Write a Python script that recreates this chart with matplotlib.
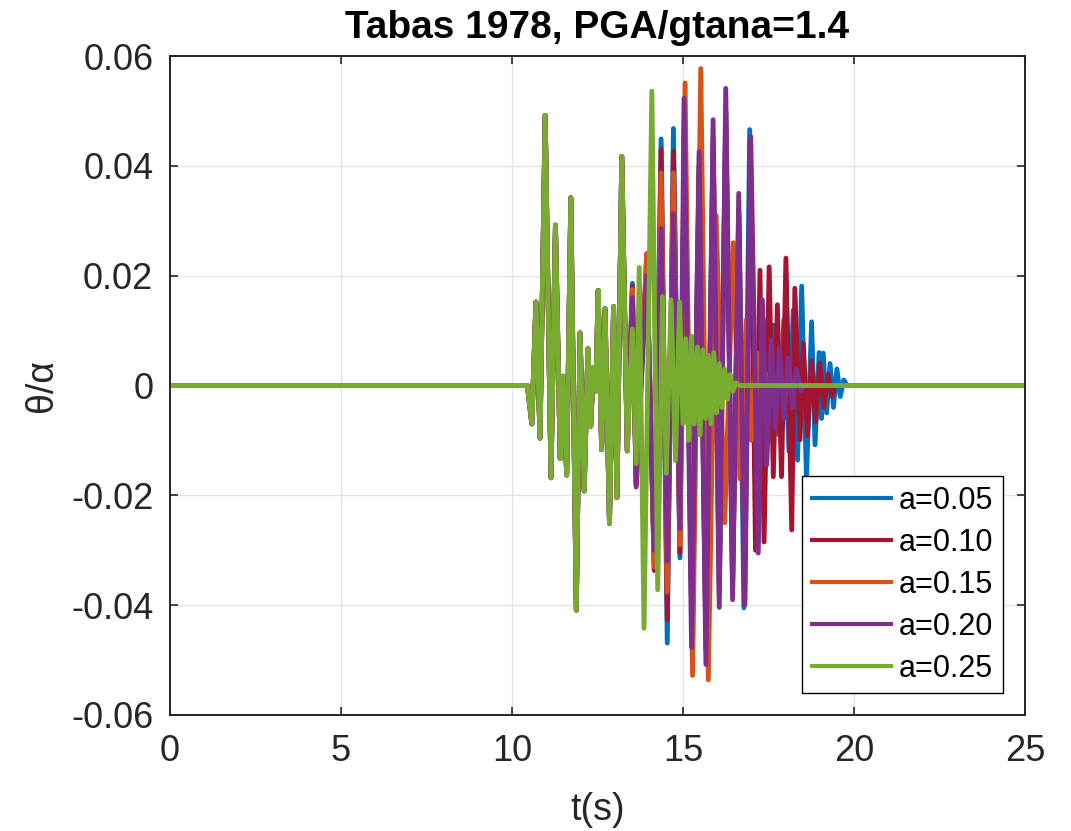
import numpy as np
import matplotlib.pyplot as plt

plt.rcParams['font.family'] = ['Liberation Sans', 'DejaVu Sans']

# shared start of the response (all five curves lie on top of each other here)
t_common = [0, 10.45, 10.58, 10.70, 10.82, 10.97, 11.14, 11.27, 11.41, 11.48, 11.60,
            11.72, 11.88, 11.99, 12.11, 12.22, 12.30, 12.38, 12.45, 12.52, 12.62,
            12.72, 12.85, 12.97, 13.07, 13.21, 13.37]
v_common = [0, 0, -0.0070, 0.0152, -0.0096, 0.0492, -0.0168, 0.0292, -0.0133, 0.0017,
            -0.0163, 0.0342, -0.0409, 0.0096, -0.0192, 0.0067, -0.0074, 0.0033, -0.0010,
            0.0173, -0.0117, 0.0140, -0.0251, 0.0144, -0.0204, 0.0417, -0.0119]

# a = 0.05
t_a05 = [13.52, 13.63, 13.94, 14.16, 14.36, 14.54, 14.72, 14.91, 15.04, 15.26, 15.47,
         15.67, 15.88, 16.06, 16.25, 16.45, 16.63, 16.78, 16.95, 17.18, 17.35, 17.50,
         17.65, 17.80, 17.95, 18.10, 18.22, 18.35, 18.47, 18.61, 18.76, 18.86, 18.98,
         19.05, 19.10, 19.20, 19.30, 19.40, 19.50, 19.60, 19.70, 19.80, 25]
v_a05 = [0.0186, -0.0175, 0.0220, -0.0335, 0.0449, -0.0469, 0.0468, -0.0314, 0.0470,
         -0.0430, 0.0380, -0.0460, 0.0430, -0.0360, 0.0480, -0.0350, 0.0310, -0.0405,
         0.0466, -0.0280, 0.0120, -0.0100, 0.0110, -0.0090, 0.0120, -0.0120, 0.0137,
         -0.0136, 0.0181, -0.0170, 0.0116, -0.0108, 0.0060, -0.0060, 0.0059, -0.0050,
         0.0040, -0.0040, 0.0030, -0.0020, 0.0010, 0, 0]

# a = 0.10
t_a10 = [13.52, 13.63, 13.94, 14.16, 14.36, 14.54, 14.72, 14.91, 15.04, 15.26, 15.47,
         15.67, 15.88, 16.06, 16.25, 16.45, 16.63, 16.80, 16.97, 17.12, 17.25, 17.37,
         17.52, 17.64, 17.76, 17.88, 18.01, 18.18, 18.27, 18.42, 18.52, 18.64, 18.76,
         18.88, 19.00, 19.12, 19.24, 19.36, 19.45, 25]
v_a10 = [0.0180, -0.0178, 0.0240, -0.0337, 0.0430, -0.0426, 0.0426, -0.0305, 0.0480,
         -0.0440, 0.0400, -0.0480, 0.0450, -0.0380, 0.0500, -0.0370, 0.0320, -0.0395,
         0.0440, -0.0300, 0.0210, -0.0285, 0.0216, -0.0166, 0.0147, -0.0166, 0.0232,
         -0.0263, 0.0177, -0.0099, 0.0077, -0.0092, 0.0045, -0.0066, 0.0040, -0.0040,
         0.0020, -0.0020, 0, 0]

# a = 0.15
t_a15 = [13.52, 13.63, 13.94, 14.16, 14.36, 14.54, 14.72, 14.91, 15.06, 15.28, 15.52,
         15.74, 15.97, 16.22, 16.47, 16.66, 16.85, 17.00, 17.15, 17.30, 17.45, 17.60, 25]
v_a15 = [0.0175, -0.0181, 0.0240, -0.0330, 0.0387, -0.0376, 0.0387, -0.0290, 0.0551,
         -0.0528, 0.0577, -0.0536, 0.0310, -0.0250, 0.0260, -0.0170, 0.0120, -0.0100,
         0.0060, -0.0040, 0.0020, 0, 0]

# a = 0.20
t_a20 = [13.52, 13.63, 13.94, 14.16, 14.36, 14.54, 14.72, 14.91, 15.03, 15.25, 15.47,
         15.67, 15.88, 16.06, 16.25, 16.45, 16.63, 16.81, 16.98, 17.20, 17.32, 17.45,
         17.58, 17.70, 17.82, 17.95, 18.08, 18.20, 18.32, 18.45, 18.55, 25]
v_a20 = [0.0160, -0.0185, 0.0200, -0.0300, 0.0286, -0.0320, 0.0313, -0.0260, 0.0523,
         -0.0477, 0.0426, -0.0508, 0.0484, -0.0404, 0.0541, -0.0390, 0.0350, -0.0400,
         0.0453, -0.0305, 0.0156, -0.0145, 0.0083, -0.0080, 0.0070, -0.0060, 0.0050,
         -0.0040, 0.0030, -0.0010, 0, 0]

# a = 0.25
t_a25 = [13.52, 13.63, 13.72, 13.86, 14.09, 14.26, 14.40, 14.51, 14.65, 14.78, 14.90,
         15.00, 15.08, 15.16, 15.25, 15.33, 15.42, 15.50, 15.58, 15.66, 15.74, 15.82,
         15.90, 15.98, 16.06, 16.14, 16.22, 16.30, 16.38, 16.46, 16.55, 16.65, 25]
v_a25 = [0.0103, -0.0142, 0.0215, -0.0442, 0.0536, -0.0372, 0.0162, -0.0160, 0.0156,
         -0.0137, 0.0152, -0.0070, 0.0085, -0.0100, 0.0090, -0.0070, 0.0070, -0.0090,
         0.0065, -0.0060, 0.0055, -0.0070, 0.0060, -0.0050, 0.0040, -0.0040, 0.0030,
         -0.0025, 0.0020, -0.0010, 0.0005, 0, 0]

labels = ['a=0.05', 'a=0.10', 'a=0.15', 'a=0.20', 'a=0.25']
colors = ['#0072BD', '#A2142F', '#D95319', '#7E2F8E', '#77AC30']
tails = [(t_a05, v_a05), (t_a10, v_a10), (t_a15, v_a15), (t_a20, v_a20), (t_a25, v_a25)]

fig = plt.figure(figsize=(10.71, 8.31), dpi=100)
ax = fig.add_axes([170 / 1071, 1 - 715 / 831, 855 / 1071, 659 / 831])

for (tt, vv), lab, col in zip(tails, labels, colors):
    t = t_common + tt
    v = v_common + vv
    ax.plot(t, v, color=col, lw=3.5, label=lab, solid_joinstyle='round')

ax.set_xlim(0, 25)
ax.set_ylim(-0.06, 0.06)
ax.set_xticks([0, 5, 10, 15, 20, 25])
ax.set_yticks([-0.06, -0.04, -0.02, 0, 0.02, 0.04, 0.06])
ax.set_yticklabels(['-0.06', '-0.04', '-0.02', '0', '0.02', '0.04', '0.06'])
ax.grid(True, color='#e3e3e3', lw=1.0)
ax.set_axisbelow(True)
ax.tick_params(direction='in', length=6, width=1.2, top=True, right=True,
               labelsize=26, colors='#262626')
ax.tick_params(axis='x', pad=14)
ax.tick_params(axis='y', pad=12)
for s in ax.spines.values():
    s.set_color('#262626')
    s.set_linewidth(1.4)

ax.set_title('Tabas 1978, PGA/gtana=1.4', fontsize=28, fontweight='bold', pad=13)
ax.set_xlabel('t(s)', fontsize=27, color='#262626', labelpad=16)
ax.set_ylabel('θ/α', fontsize=27, color='#262626', labelpad=8)

leg = ax.legend(loc='lower right', fontsize=22, handlelength=2.6, handletextpad=0.25,
                labelspacing=0.39, borderpad=0.32, borderaxespad=0.71,
                fancybox=False, framealpha=1, edgecolor='black')
leg.get_frame().set_linewidth(1.0)
for line in leg.get_lines():
    line.set_linewidth(3.0)

fig.savefig('out.png', dpi=100)
